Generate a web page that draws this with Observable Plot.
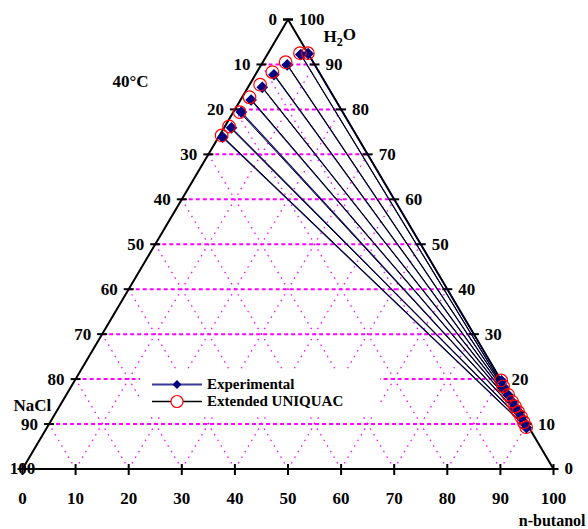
<!DOCTYPE html>
<html>
<head>
<meta charset="utf-8">
<script src="https://cdn.jsdelivr.net/npm/d3@7"></script>
<script src="https://cdn.jsdelivr.net/npm/@observablehq/plot@0.6"></script>
<style>
  body { margin: 0; background: #fff; }
  #chart { position: relative; width: 588px; height: 529px; }
  #legend { position: absolute; left: 140px; top: 371px; width: 240px; height: 43px; background: #fff; }
</style>
</head>
<body>
<div id="chart"><div id="legend"></div></div>
<script>
// Liquid–liquid equilibrium of H2O + NaCl + n-butanol at 40 °C (mass %).
// Index i is one tie line; n-butanol = 100 - H2O - NaCl.
const expAqH2O   = [92.4, 92.2, 89.9, 87.7, 84.9, 82.1, 79.4, 75.9, 73.8];
const expAqNaCl  = [0.0, 1.5, 5.2, 8.8, 12.4, 15.9, 19.1, 22.7, 25.4];
const expOrgH2O  = [19.6, 18.2, 16.4, 14.9, 13.8, 12.6, 11.5, 10.3, 9.2];
const expOrgNaCl = [0.0, 0.3, 0.3, 0.3, 0.3, 0.2, 0.3, 0.4, 0.5];

const uniqAqH2O   = [92.5, 92.5, 90.5, 88.3, 85.5, 82.7, 79.4, 76.2, 74.2];
const uniqAqNaCl  = [0.0, 1.5, 5.2, 8.8, 12.5, 15.9, 19.4, 23.0, 25.4];
const uniqOrgH2O  = [19.7, 18.4, 16.5, 15.0, 13.9, 12.7, 11.6, 10.4, 9.3];
const uniqOrgNaCl = [0.0, 0.3, 0.3, 0.3, 0.3, 0.3, 0.3, 0.4, 0.5];

// Axis ticks (percent) and grid levels
const tickValues = [0, 10, 20, 30, 40, 50, 60, 70, 80, 90, 100];
const gridLevels = [10, 20, 30, 40, 50, 60, 70, 80, 90];

const legendLabels = ["Experimental", "Extended UNIQUAC"];

// Ternary -> cartesian: x = butanol + H2O/2, y = H2O (both as fractions)
const tern = (h2o, nacl) => ({x: (100 - nacl - h2o / 2) / 100, y: h2o / 100});

function tieLines(aqH, aqN, orgH, orgN) {
  return aqH.map((h, i) => {
    const a = tern(h, aqN[i]);
    const o = tern(orgH[i], orgN[i]);
    return {x1: a.x, y1: a.y, x2: o.x, y2: o.y};
  });
}
function phasePoints(aqH, aqN, orgH, orgN) {
  return [...aqH.map((h, i) => tern(h, aqN[i])), ...orgH.map((h, i) => tern(h, orgN[i]))];
}

const expTies = tieLines(expAqH2O, expAqNaCl, expOrgH2O, expOrgNaCl);
const uniqTies = tieLines(uniqAqH2O, uniqAqNaCl, uniqOrgH2O, uniqOrgNaCl);
const expPts = phasePoints(expAqH2O, expAqNaCl, expOrgH2O, expOrgNaCl);
const uniqPts = phasePoints(uniqAqH2O, uniqAqNaCl, uniqOrgH2O, uniqOrgNaCl);

// Grid: constant H2O (horizontal), constant butanol, constant NaCl
const gridH2O = gridLevels.map(h => {
  const a = tern(h, 100 - h), b = tern(h, 0);
  return {x1: a.x, y1: a.y, x2: b.x, y2: b.y};
});
const gridBut = gridLevels.map(bu => {
  const a = tern(0, 100 - bu), b = tern(100 - bu, 0);
  return {x1: a.x, y1: a.y, x2: b.x, y2: b.y};
});
const gridNaCl = gridLevels.map(n => {
  const a = tern(0, n), b = tern(100 - n, n);
  return {x1: a.x, y1: a.y, x2: b.x, y2: b.y};
});

const outline = [tern(0, 100), tern(0, 0), tern(100, 0), tern(0, 100)];

// Tick positions on each edge
const leftTicks = tickValues.map(n => ({...tern(100 - n, n), label: String(n)}));   // NaCl
const rightTicks = tickValues.map(h => ({...tern(h, 0), label: String(h)}));        // H2O
const bottomTicks = tickValues.map(b => ({...tern(0, 100 - b), label: String(b)})); // n-butanol

const hTick = {draw(ctx) { ctx.moveTo(-5, 0); ctx.lineTo(5, 0); }};
const vTick = {draw(ctx) { ctx.moveTo(0, -5); ctx.lineTo(0, 6); }};

const serif = '"Liberation Serif", "Times New Roman", serif';
const txt = {fontFamily: serif, fontWeight: "bold", fontSize: 17, fill: "black"};
const note = {frameAnchor: "top-left", lineAnchor: "middle", ...txt};
const magenta = "#ff00ff";

const plot = Plot.plot({
  width: 588,
  height: 529,
  margin: 0,
  x: {domain: [0, 1], range: [22, 553], axis: null},
  y: {domain: [0, 1], range: [468.5, 19], axis: null},
  style: {background: "#fff", overflow: "visible"},
  marks: [
    Plot.link(gridBut, {x1: "x1", y1: "y1", x2: "x2", y2: "y2", stroke: magenta, strokeWidth: 1.3, strokeDasharray: "1.5,5"}),
    Plot.link(gridNaCl, {x1: "x1", y1: "y1", x2: "x2", y2: "y2", stroke: magenta, strokeWidth: 1.3, strokeDasharray: "1.5,5"}),
    Plot.link(gridH2O, {x1: "x1", y1: "y1", x2: "x2", y2: "y2", stroke: magenta, strokeWidth: 2, strokeDasharray: "4,3"}),
    Plot.line(outline, {x: "x", y: "y", stroke: "black", strokeWidth: 2}),
    Plot.dot(leftTicks, {x: "x", y: "y", symbol: hTick, stroke: "black", strokeWidth: 2, fill: "none"}),
    Plot.dot(rightTicks, {x: "x", y: "y", symbol: hTick, stroke: "black", strokeWidth: 2, fill: "none"}),
    Plot.dot(bottomTicks, {x: "x", y: "y", symbol: vTick, stroke: "black", strokeWidth: 2, fill: "none"}),
    Plot.text(leftTicks.filter(d => d.label !== "100"), {x: "x", y: "y", text: "label", textAnchor: "end", dx: -11, ...txt}),
    Plot.text(leftTicks.filter(d => d.label === "100"), {x: "x", y: "y", text: "label", textAnchor: "middle", ...txt}),
    Plot.text(rightTicks, {x: "x", y: "y", text: "label", textAnchor: "start", dx: 11, ...txt}),
    Plot.text(bottomTicks, {x: "x", y: "y", text: "label", textAnchor: "middle", dy: 29.5, ...txt}),
    Plot.link(expTies, {x1: "x1", y1: "y1", x2: "x2", y2: "y2", stroke: "#000080", strokeWidth: 1.2}),
    Plot.link(uniqTies, {x1: "x1", y1: "y1", x2: "x2", y2: "y2", stroke: "black", strokeWidth: 1}),
    Plot.dot(expPts, {x: "x", y: "y", symbol: "diamond2", r: 4.3, fill: "#000080", stroke: "#000080"}),
    Plot.dot(uniqPts, {x: "x", y: "y", r: 6.3, fill: "none", stroke: "#ff0000", strokeWidth: 1.2}),
    Plot.text(["NaCl"], {...note, dx: 13, dy: 405, textAnchor: "start"}),
    Plot.text(["40°C"], {...note, dx: 112, dy: 81, textAnchor: "start"}),
    Plot.text(["H2O"], {...note, dx: 323, dy: 36, textAnchor: "start", className: "h2o-label"}),
    Plot.text(["n-butanol"], {...note, dx: 585, dy: 520, textAnchor: "end", fontSize: 16})
  ]
});

// Subscript the 2 in H2O
d3.select(plot).selectAll(".h2o-label text").each(function() {
  const t = d3.select(this);
  t.text(null);
  t.append("tspan").text("H");
  t.append("tspan").attr("dy", "0.3em").attr("font-size", "12px").text("2");
  t.append("tspan").attr("dy", "-0.3em").text("O");
});

const chart = document.getElementById("chart");
chart.insertBefore(plot, chart.firstChild);

// Legend drawn over the plot area on a white box
const lg = d3.select("#legend").append("svg").attr("width", 240).attr("height", 43)
  .style("font-family", serif).style("font-weight", "bold").style("font-size", "15px");
const rows = lg.selectAll("g").data(legendLabels).join("g")
  .attr("transform", (d, i) => `translate(0,${13.5 + i * 17})`);
rows.append("line").attr("x1", 12).attr("x2", 62).attr("y1", 0).attr("y2", 0)
  .attr("stroke", (d, i) => i === 0 ? "#3a3a9a" : "black").attr("stroke-width", (d, i) => i === 0 ? 2 : 1.5);
rows.filter((d, i) => i === 0).append("path")
  .attr("d", d3.symbol(d3.symbolDiamond2, 50)()).attr("transform", "translate(37,0)").attr("fill", "#000080");
rows.filter((d, i) => i === 1).append("circle")
  .attr("cx", 37).attr("r", 6).attr("fill", "#fff").attr("stroke", "#ff0000").attr("stroke-width", 1.2);
rows.append("text").attr("x", 67).attr("dy", "0.32em").text(d => d);
</script>
</body>
</html>
